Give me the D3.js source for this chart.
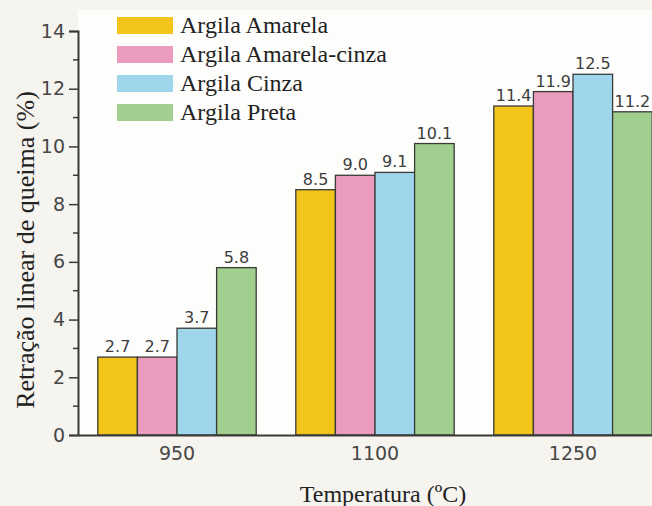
<!DOCTYPE html>
<html>
<head>
<meta charset="utf-8">
<script src="https://cdn.jsdelivr.net/npm/d3@7"></script>
<style>
  body { margin: 0; background: #f6f4ee; }
  svg { display: block; }
</style>
</head>
<body>
<svg id="screen"></svg>
<script>
// data
let temps = ["950", "1100", "1250"]
let series = ["Argila Amarela", "Argila Amarela-cinza", "Argila Cinza", "Argila Preta"]
let colors = ["#f3c51a", "#eb9bbd", "#9fd6ec", "#a0cf90"]
let amarela = [2.7, 8.5, 11.4]
let amarelaCinza = [2.7, 9.0, 11.9]
let cinza = [3.7, 9.1, 12.5]
let preta = [5.8, 10.1, 11.2]
let yTicks = [0, 2, 4, 6, 8, 10, 12, 14]

let values = [amarela, amarelaCinza, cinza, preta]

let svg = {width: 652, height: 506}
let frame = d3.select('#screen')
  .attr("width", svg.width)
  .attr("height", svg.height)

// plot area (right side runs past the picture edge, as in the scan)
let plot = {left: 78, right: 672, top: 31, bottom: 435}
let sans = "DejaVu Sans, Verdana, sans-serif"
let serif = "Liberation Serif, Times New Roman, serif"

frame.append("rect")
  .attr("x", plot.left).attr("y", 10)
  .attr("width", svg.width - plot.left).attr("height", plot.bottom - 10)
  .attr("fill", "#fdfdfb")

let y = d3.scaleLinear().domain([0, 14]).range([plot.bottom, plot.top])
let x0 = d3.scaleBand().domain(temps).range([plot.left, plot.right])
  .paddingInner(0.2).paddingOuter(0.1)
let x1 = d3.scaleBand().domain(series).range([0, x0.bandwidth()])

// bars
let groups = frame.append("g").selectAll("g")
  .data(temps)
  .enter().append("g")
  .attr("transform", d => "translate(" + x0(d) + ",0)")

groups.selectAll("rect")
  .data((t, i) => series.map((s, j) => ({s: s, j: j, v: values[j][i]})))
  .enter().append("rect")
  .attr("x", d => x1(d.s))
  .attr("y", d => y(d.v))
  .attr("width", x1.bandwidth())
  .attr("height", d => y(0) - y(d.v))
  .attr("fill", d => colors[d.j])
  .attr("stroke", "#3a3a36")
  .attr("stroke-width", 1.3)

// value labels
groups.selectAll("text")
  .data((t, i) => series.map((s, j) => ({s: s, j: j, v: values[j][i]})))
  .enter().append("text")
  .attr("x", d => x1(d.s) + x1.bandwidth() / 2)
  .attr("y", d => y(d.v) - 5)
  .attr("text-anchor", "middle")
  .attr("font-family", sans)
  .attr("font-size", 16)
  .attr("fill", "#3e3e3e")
  .text(d => d.v.toFixed(1))

// y axis
let yAxis = frame.append("g")
  .attr("transform", "translate(" + plot.left + ",0)")
  .call(d3.axisLeft(y).tickValues(yTicks).tickSize(9).tickPadding(4).tickFormat(d3.format("d")))
yAxis.append("g").selectAll("line")
  .data(d3.range(1, 14, 2))
  .enter().append("line")
  .attr("x1", -5).attr("x2", 0)
  .attr("y1", d => y(d)).attr("y2", d => y(d))
  .attr("stroke", "#3a3a36").attr("stroke-width", 1.5)
yAxis.select(".domain").attr("stroke", "#3a3a36").attr("stroke-width", 2)
yAxis.selectAll(".tick line").attr("stroke", "#3a3a36").attr("stroke-width", 1.5)
yAxis.selectAll(".tick text")
  .attr("font-family", sans)
  .attr("font-size", 19)
  .attr("fill", "#474747")

// x axis
let xAxis = frame.append("g")
  .attr("transform", "translate(0," + plot.bottom + ")")
  .call(d3.axisBottom(x0).tickSize(0).tickPadding(12))
xAxis.select(".domain").attr("stroke", "#3a3a36").attr("stroke-width", 2)
xAxis.selectAll(".tick text")
  .attr("font-family", sans)
  .attr("font-size", 19)
  .attr("fill", "#474747")

// axis titles
frame.append("text")
  .attr("transform", "translate(34,250) rotate(-90)")
  .attr("text-anchor", "middle")
  .attr("font-family", serif)
  .attr("font-size", 26)
  .attr("fill", "#222")
  .text("Retração linear de queima (%)")

frame.append("text")
  .attr("x", 383).attr("y", 502)
  .attr("text-anchor", "middle")
  .attr("font-family", serif)
  .attr("font-size", 24)
  .attr("fill", "#222")
  .text("Temperatura (ºC)")

// legend
let legend = frame.append("g").attr("transform", "translate(117,17)")
series.forEach(function(s, i) {
  let row = legend.append("g").attr("transform", "translate(0," + (i * 29) + ")")
  row.append("rect")
    .attr("width", 56).attr("height", 17)
    .attr("fill", colors[i])
  row.append("text")
    .attr("x", 63).attr("y", 16)
    .attr("font-family", serif)
    .attr("font-size", 24)
    .attr("fill", "#222")
    .text(s)
})
</script>
</body>
</html>
